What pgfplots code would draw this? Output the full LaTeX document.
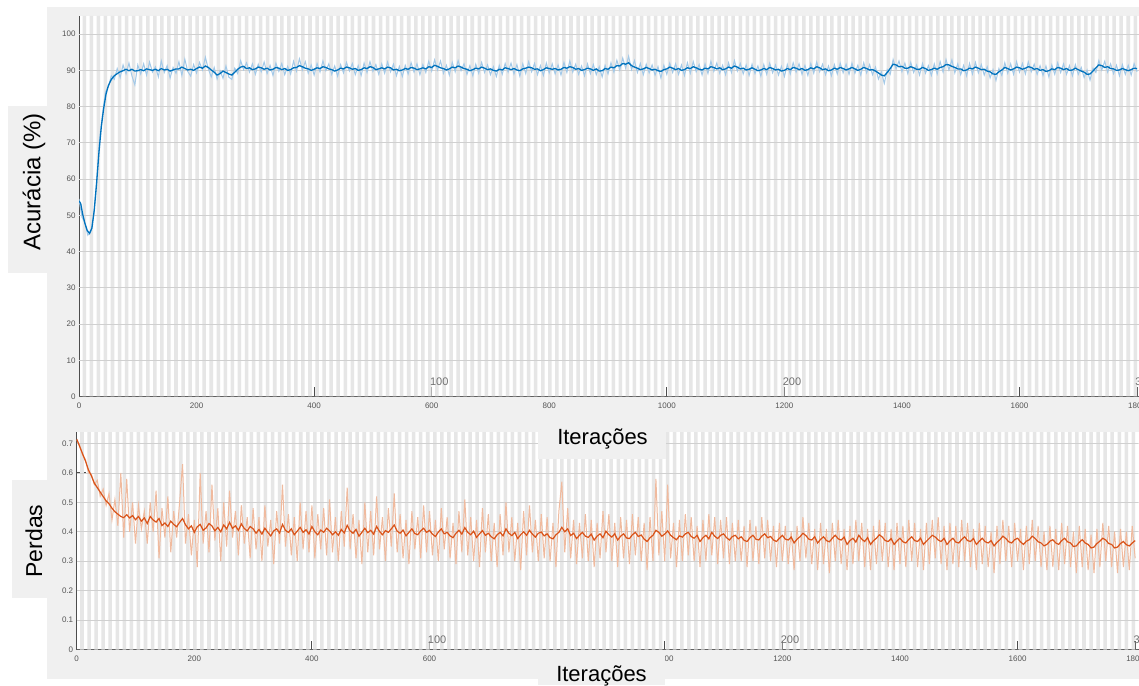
\documentclass[border=0pt]{standalone}
\usepackage{fontspec}
\setmainfont{Liberation Sans}
\usepackage{pgfplots}
\usepackage{pgfplotstable}
\pgfplotsset{compat=1.18}
\definecolor{panel}{HTML}{F0F0F0}
\definecolor{stripe}{HTML}{E6E6E6}
\definecolor{gridc}{HTML}{D0D0D0}
\definecolor{axc}{HTML}{4D4D4D}
\definecolor{tickc}{HTML}{555555}
\definecolor{epochc}{HTML}{707070}
\definecolor{mblue}{HTML}{0072BD}
\definecolor{lblue}{HTML}{A3C9E8}
\definecolor{morange}{HTML}{D95319}
\definecolor{lorange}{HTML}{F0BA9E}
% epoch shading (x, top for accuracy axis, top for loss axis)
\pgfplotstableread[row sep=\\]{
x a b\\
0 0 0\\6 105 0.75\\12 0 0\\18 105 0.75\\24 0 0\\30 105 0.75\\36 0 0\\42 105 0.75\\48 0 0\\54 105 0.75\\60 0 0\\66 105 0.75\\72 0 0\\78 105 0.75\\84 0 0\\90 105 0.75\\96 0 0\\102 105 0.75\\108 0 0\\114 105 0.75\\
120 0 0\\126 105 0.75\\132 0 0\\138 105 0.75\\144 0 0\\150 105 0.75\\156 0 0\\162 105 0.75\\168 0 0\\174 105 0.75\\180 0 0\\186 105 0.75\\192 0 0\\198 105 0.75\\204 0 0\\210 105 0.75\\216 0 0\\222 105 0.75\\228 0 0\\234 105 0.75\\
240 0 0\\246 105 0.75\\252 0 0\\258 105 0.75\\264 0 0\\270 105 0.75\\276 0 0\\282 105 0.75\\288 0 0\\294 105 0.75\\300 0 0\\306 105 0.75\\312 0 0\\318 105 0.75\\324 0 0\\330 105 0.75\\336 0 0\\342 105 0.75\\348 0 0\\354 105 0.75\\
360 0 0\\366 105 0.75\\372 0 0\\378 105 0.75\\384 0 0\\390 105 0.75\\396 0 0\\402 105 0.75\\408 0 0\\414 105 0.75\\420 0 0\\426 105 0.75\\432 0 0\\438 105 0.75\\444 0 0\\450 105 0.75\\456 0 0\\462 105 0.75\\468 0 0\\474 105 0.75\\
480 0 0\\486 105 0.75\\492 0 0\\498 105 0.75\\504 0 0\\510 105 0.75\\516 0 0\\522 105 0.75\\528 0 0\\534 105 0.75\\540 0 0\\546 105 0.75\\552 0 0\\558 105 0.75\\564 0 0\\570 105 0.75\\576 0 0\\582 105 0.75\\588 0 0\\594 105 0.75\\
600 0 0\\606 105 0.75\\612 0 0\\618 105 0.75\\624 0 0\\630 105 0.75\\636 0 0\\642 105 0.75\\648 0 0\\654 105 0.75\\660 0 0\\666 105 0.75\\672 0 0\\678 105 0.75\\684 0 0\\690 105 0.75\\696 0 0\\702 105 0.75\\708 0 0\\714 105 0.75\\
720 0 0\\726 105 0.75\\732 0 0\\738 105 0.75\\744 0 0\\750 105 0.75\\756 0 0\\762 105 0.75\\768 0 0\\774 105 0.75\\780 0 0\\786 105 0.75\\792 0 0\\798 105 0.75\\804 0 0\\810 105 0.75\\816 0 0\\822 105 0.75\\828 0 0\\834 105 0.75\\
840 0 0\\846 105 0.75\\852 0 0\\858 105 0.75\\864 0 0\\870 105 0.75\\876 0 0\\882 105 0.75\\888 0 0\\894 105 0.75\\900 0 0\\906 105 0.75\\912 0 0\\918 105 0.75\\924 0 0\\930 105 0.75\\936 0 0\\942 105 0.75\\948 0 0\\954 105 0.75\\
960 0 0\\966 105 0.75\\972 0 0\\978 105 0.75\\984 0 0\\990 105 0.75\\996 0 0\\1002 105 0.75\\1008 0 0\\1014 105 0.75\\1020 0 0\\1026 105 0.75\\1032 0 0\\1038 105 0.75\\1044 0 0\\1050 105 0.75\\1056 0 0\\1062 105 0.75\\1068 0 0\\1074 105 0.75\\
1080 0 0\\1086 105 0.75\\1092 0 0\\1098 105 0.75\\1104 0 0\\1110 105 0.75\\1116 0 0\\1122 105 0.75\\1128 0 0\\1134 105 0.75\\1140 0 0\\1146 105 0.75\\1152 0 0\\1158 105 0.75\\1164 0 0\\1170 105 0.75\\1176 0 0\\1182 105 0.75\\1188 0 0\\1194 105 0.75\\
1200 0 0\\1206 105 0.75\\1212 0 0\\1218 105 0.75\\1224 0 0\\1230 105 0.75\\1236 0 0\\1242 105 0.75\\1248 0 0\\1254 105 0.75\\1260 0 0\\1266 105 0.75\\1272 0 0\\1278 105 0.75\\1284 0 0\\1290 105 0.75\\1296 0 0\\1302 105 0.75\\1308 0 0\\1314 105 0.75\\
1320 0 0\\1326 105 0.75\\1332 0 0\\1338 105 0.75\\1344 0 0\\1350 105 0.75\\1356 0 0\\1362 105 0.75\\1368 0 0\\1374 105 0.75\\1380 0 0\\1386 105 0.75\\1392 0 0\\1398 105 0.75\\1404 0 0\\1410 105 0.75\\1416 0 0\\1422 105 0.75\\1428 0 0\\1434 105 0.75\\
1440 0 0\\1446 105 0.75\\1452 0 0\\1458 105 0.75\\1464 0 0\\1470 105 0.75\\1476 0 0\\1482 105 0.75\\1488 0 0\\1494 105 0.75\\1500 0 0\\1506 105 0.75\\1512 0 0\\1518 105 0.75\\1524 0 0\\1530 105 0.75\\1536 0 0\\1542 105 0.75\\1548 0 0\\1554 105 0.75\\
1560 0 0\\1566 105 0.75\\1572 0 0\\1578 105 0.75\\1584 0 0\\1590 105 0.75\\1596 0 0\\1602 105 0.75\\1608 0 0\\1614 105 0.75\\1620 0 0\\1626 105 0.75\\1632 0 0\\1638 105 0.75\\1644 0 0\\1650 105 0.75\\1656 0 0\\1662 105 0.75\\1668 0 0\\1674 105 0.75\\
1680 0 0\\1686 105 0.75\\1692 0 0\\1698 105 0.75\\1704 0 0\\1710 105 0.75\\1716 0 0\\1722 105 0.75\\1728 0 0\\1734 105 0.75\\1740 0 0\\1746 105 0.75\\1752 0 0\\1758 105 0.75\\1764 0 0\\1770 105 0.75\\1776 0 0\\1782 105 0.75\\1788 0 0\\1794 105 0.75\\
1800 0 0\\1806 0 0\\
}\stripes
\pgfplotsset{
 mystyle/.style={
  scale only axis, axis lines=left,
  axis background/.style={fill=white},
  axis line style={axc, line width=0.9pt, -},
  tick align=inside, major tick length=9pt, tick style={axc, line width=0.9pt},
  xmin=0, ymin=0, xtick={0,200,...,1800},
  tick label style={font=\fontsize{8}{9}\selectfont, text=tickc},
  /pgf/number format/assume math mode=true,
  /pgf/number format/1000 sep={},
  xticklabel style={yshift=-3pt},
 }
}
\begin{document}
\begin{tikzpicture}
\begin{scope}
\clip (0pt,0pt) rectangle (1139pt,685pt);
\fill[panel] (47pt,6pt) rectangle (1139pt,678pt);
% ---------------- accuracy ----------------
\begin{axis}[mystyle, at={(79pt,288.5pt)}, anchor=south west,
  width=1059.8pt, height=380.5pt, xmax=1803, ymax=105, ytick={0,10,...,100}]
\addplot[const plot, fill=stripe, draw=none] table[x=x, y=a] {\stripes} \closedcycle;
\pgfplotsinvokeforeach{10,20,30,40,50,60,70,80,90,100}{
  \draw[gridc, line width=0.7pt] (axis cs:0,#1) -- (axis cs:1803,#1);
}
\addplot[lblue, line width=1pt] coordinates {
(0,54.5)(5,49.5)(10,48)(15,44.5)(20,45.5)(25,50)(30,59)(35,71)(40,78)(45,84)(50,85.5)(55,88.5)(60,87.5)(65,90.5)(70,88)(75,91.5)(80,89)(85,92)(90,88.5)(95,86)
(100,91.5)(105,89)(110,91.8)(115,88.7)(120,92.3)(125,89.5)(130,91)(135,88.2)(140,92.6)(145,89.4)(150,91.3)(155,87.9)(160,90.8)(165,89.2)(170,92.4)(175,88.6)(180,93.1)(185,89.7)(190,88.4)(195,91.6)
(200,89.3)(205,92.2)(210,90.1)(215,93.6)(220,90.4)(225,88.2)(230,90.8)(235,87.6)(240,89.9)(245,87.8)(250,91.2)(255,88.1)(260,87.5)(265,90.6)(270,89.1)(275,92.7)(280,90.2)(285,92.1)(290,89.5)(295,91.8)
(300,88.9)(305,91.7)(310,89.6)(315,92.3)(320,89.1)(325,91.4)(330,88.6)(335,92.0)(340,89.7)(345,91.9)(350,88.8)(355,91.1)(360,89.0)(365,92.5)(370,89.8)(375,93.2)(380,90.1)(385,92.4)(390,89.2)(395,91.5)
(400,88.7)(405,91.9)(410,89.5)(415,92.6)(420,89.9)(425,91.8)(430,88.9)(435,91.2)(440,88.4)(445,91.6)(450,89.3)(455,92.2)(460,89.8)(465,91.9)(470,88.8)(475,91.3)(480,88.6)(485,92.0)(490,89.4)(495,92.4)
(500,89.7)(505,91.6)(510,88.9)(515,91.8)(520,89.2)(525,92.3)(530,89.6)(535,91.7)(540,88.5)(545,91.1)(550,88.3)(555,91.4)(560,89.0)(565,92.1)(570,89.5)(575,91.8)(580,88.8)(585,91.6)(590,89.4)(595,92.5)
(600,89.8)(605,92.9)(610,90.1)(615,92.6)(620,89.2)(625,91.4)(630,88.7)(635,92.2)(640,89.6)(645,92.7)(650,89.9)(655,91.8)(660,88.9)(665,91.3)(670,88.5)(675,91.7)(680,89.2)(685,92.2)(690,89.4)(695,91.5)
(700,88.8)(705,91.0)(710,88.3)(715,91.4)(720,88.9)(725,91.9)(730,89.5)(735,92.0)(740,89.0)(745,91.6)(750,88.4)(755,91.8)(760,89.1)(765,92.4)(770,89.6)(775,91.9)(780,88.8)(785,91.3)(790,88.6)(795,92.0)
(800,89.3)(805,91.8)(810,89.0)(815,91.5)(820,88.7)(825,92.2)(830,89.4)(835,92.6)(840,89.5)(845,91.7)(850,88.9)(855,91.2)(860,88.5)(865,91.8)(870,89.1)(875,91.6)(880,88.8)(885,91.0)(890,88.2)(895,91.4)
(900,89.0)(905,92.1)(910,89.5)(915,92.8)(920,90.1)(925,93.4)(930,90.6)(935,93.9)(940,90.2)(945,92.7)(950,89.4)(955,91.9)(960,88.8)(965,91.7)(970,89.3)(975,91.5)(980,88.7)(985,91.0)(990,87.9)(995,91.4)
(1000,88.9)(1005,92.0)(1010,89.4)(1015,91.8)(1020,88.9)(1025,91.5)(1030,88.6)(1035,92.1)(1040,89.2)(1045,92.4)(1050,89.6)(1055,91.6)(1060,88.7)(1065,91.8)(1070,89.1)(1075,92.5)(1080,89.7)(1085,92.0)(1090,89.2)(1095,91.4)
(1100,88.8)(1105,92.1)(1110,89.4)(1115,92.7)(1120,89.8)(1125,91.9)(1130,89.0)(1135,91.5)(1140,88.6)(1145,91.7)(1150,89.1)(1155,91.2)(1160,88.4)(1165,91.6)(1170,88.9)(1175,92.0)(1180,89.3)(1185,91.5)(1190,88.7)(1195,91.1)
(1200,88.3)(1205,91.6)(1210,89.0)(1215,92.1)(1220,89.5)(1225,91.8)(1230,88.9)(1235,91.4)(1240,88.6)(1245,91.9)(1250,89.2)(1255,92.3)(1260,89.6)(1265,91.7)(1270,88.8)(1275,91.2)(1280,88.5)(1285,91.6)(1290,89.0)(1295,92.0)
(1300,89.3)(1305,91.7)(1310,88.9)(1315,92.0)(1320,89.2)(1325,91.4)(1330,88.7)(1335,92.1)(1340,89.3)(1345,91.6)(1350,88.8)(1355,90.9)(1360,87.6)(1365,89.5)(1370,86.4)(1375,90.2)(1380,88.9)(1385,93.0)(1390,90.4)(1395,92.6)
(1400,89.6)(1405,92.0)(1410,89.1)(1415,92.2)(1420,89.4)(1425,91.5)(1430,88.7)(1435,91.9)(1440,89.2)(1445,91.3)(1450,88.6)(1455,91.8)(1460,89.0)(1465,92.4)(1470,89.5)(1475,93.0)(1480,90.1)(1485,92.9)(1490,89.3)(1495,91.8)
(1500,88.8)(1505,91.4)(1510,88.5)(1515,91.9)(1520,89.0)(1525,92.2)(1530,89.3)(1535,91.6)(1540,88.7)(1545,91.0)(1550,87.9)(1555,90.2)(1560,87.2)(1565,90.5)(1570,88.6)(1575,92.1)(1580,89.2)(1585,91.8)(1590,88.9)(1595,92.4)
(1600,89.5)(1605,91.9)(1610,89.0)(1615,92.3)(1620,89.6)(1625,91.7)(1630,88.9)(1635,91.3)(1640,88.6)(1645,91.2)(1650,88.2)(1655,91.5)(1660,88.9)(1665,92.1)(1670,89.4)(1675,91.8)(1680,88.9)(1685,91.3)(1690,88.5)(1695,91.6)
(1700,88.9)(1705,90.8)(1710,88.0)(1715,90.1)(1720,87.3)(1725,90.6)(1730,89.4)(1735,92.7)(1740,90.1)(1745,92.5)(1750,89.5)(1755,91.8)(1760,89.1)(1765,91.4)(1770,88.5)(1775,91.6)(1780,88.9)(1785,91.4)(1790,88.7)(1795,91.9)(1800,89.6)
};
\addplot[mblue, line width=1.3pt] coordinates {
(0,54)(3,53.2)(6,50.5)(10,47.8)(14,45.8)(18,45)(22,46.5)(26,51.5)(30,59)(34,67.5)(38,74.5)(42,79.5)(46,83.5)(50,85.8)(55,87.5)(60,88.5)(65,89.1)(70,89.6)(75,89.9)
(80,90.3)(85,89.9)(90,90.3)(95,89.8)(100,89.9)(105,90.2)(110,89.9)(115,90.4)(120,90.2)(125,90.0)(130,90.3)(135,89.9)(140,90.5)(145,90.1)(150,90.3)(155,89.8)(160,90.1)(165,90.4)(170,90.4)(175,90.9)
(180,90.5)(185,90.1)(190,90.3)(195,90.0)(200,90.5)(205,90.9)(210,90.6)(215,91.2)(220,90.8)(225,90.1)(230,89.5)(235,88.7)(240,89.1)(245,89.8)(250,89.4)(255,89.0)(260,88.7)(265,89.5)(270,90.3)(275,90.9)
(280,91.1)(285,90.5)(290,90.7)(295,90.2)(300,90.4)(305,90.9)(310,90.7)(315,90.3)(320,90.6)(325,90.1)(330,90.3)(335,90.8)(340,90.6)(345,90.2)(350,90.5)(355,90.0)(360,90.2)(365,90.7)(370,90.8)(375,91.3)
(380,91.0)(385,90.6)(390,90.4)(395,90.0)(400,90.3)(405,90.7)(410,90.5)(415,91.0)(420,90.8)(425,90.4)(430,90.2)(435,89.8)(440,90.1)(445,90.6)(450,90.4)(455,90.9)(460,90.7)(465,90.3)(470,90.5)(475,90.0)
(480,90.2)(485,90.7)(490,90.5)(495,91.0)(500,90.8)(505,90.2)(510,90.4)(515,90.7)(520,90.4)(525,90.9)(530,90.7)(535,90.1)(540,90.3)(545,89.9)(550,90.1)(555,90.5)(560,90.3)(565,90.8)(570,90.6)(575,90.2)
(580,90.4)(585,90.7)(590,90.4)(595,91.0)(600,90.8)(605,91.4)(610,91.1)(615,90.7)(620,90.5)(625,90.1)(630,90.4)(635,90.9)(640,90.7)(645,91.2)(650,90.9)(655,90.5)(660,90.3)(665,89.9)(670,90.2)(675,90.6)
(680,90.4)(685,90.9)(690,90.6)(695,90.2)(700,90.4)(705,90.0)(710,89.8)(715,90.3)(720,90.1)(725,90.7)(730,90.5)(735,90.2)(740,90.5)(745,90.1)(750,89.9)(755,90.4)(760,90.6)(765,90.9)(770,90.7)(775,90.3)
(780,90.4)(785,89.9)(790,90.2)(795,90.7)(800,90.5)(805,90.3)(810,90.5)(815,90.1)(820,90.3)(825,90.8)(830,90.6)(835,91.0)(840,90.8)(845,90.3)(850,90.5)(855,90.0)(860,90.2)(865,90.6)(870,90.4)(875,90.0)
(880,90.4)(885,89.8)(890,89.9)(895,90.5)(900,90.3)(905,90.9)(910,90.7)(915,91.3)(920,91.2)(925,91.9)(930,91.7)(935,92.1)(940,91.3)(945,90.9)(950,90.6)(955,90.2)(960,90.4)(965,90.8)(970,90.5)(975,90.1)
(980,90.3)(985,89.9)(990,89.7)(995,90.2)(1000,90.4)(1005,90.9)(1010,90.6)(1015,90.2)(1020,90.5)(1025,90.0)(1030,90.2)(1035,90.7)(1040,90.5)(1045,91.0)(1050,90.7)(1055,90.3)(1060,90.1)(1065,90.6)(1070,90.4)(1075,91.0)
(1080,90.8)(1085,90.4)(1090,90.7)(1095,90.2)(1100,90.4)(1105,90.9)(1110,90.6)(1115,91.2)(1120,90.9)(1125,90.4)(1130,90.6)(1135,90.1)(1140,90.3)(1145,90.7)(1150,90.3)(1155,89.9)(1160,90.1)(1165,90.5)(1170,90.2)(1175,90.8)
(1180,90.5)(1185,90.1)(1190,90.3)(1195,89.8)(1200,90.0)(1205,90.5)(1210,90.2)(1215,90.8)(1220,90.6)(1225,90.2)(1230,90.5)(1235,90.0)(1240,90.2)(1245,90.7)(1250,90.4)(1255,91.0)(1260,90.7)(1265,90.2)(1270,90.4)(1275,89.9)
(1280,90.1)(1285,90.6)(1290,90.3)(1295,90.8)(1300,90.5)(1305,90.1)(1310,90.4)(1315,90.8)(1320,90.4)(1325,90.0)(1330,90.3)(1335,90.8)(1340,90.5)(1345,90.1)(1350,90.2)(1355,89.8)(1360,89.3)(1365,88.7)(1370,88.5)(1375,89.4)
(1380,90.5)(1385,91.7)(1390,91.5)(1395,91.0)(1400,91.1)(1405,90.6)(1410,90.6)(1415,91.0)(1420,90.7)(1425,90.3)(1430,90.3)(1435,90.8)(1440,90.5)(1445,90.0)(1450,90.2)(1455,90.6)(1460,90.3)(1465,90.8)(1470,91.0)(1475,91.6)
(1480,91.5)(1485,91.1)(1490,90.8)(1495,90.4)(1500,90.4)(1505,89.9)(1510,90.1)(1515,90.6)(1520,90.4)(1525,90.9)(1530,90.6)(1535,90.2)(1540,90.3)(1545,89.8)(1550,89.6)(1555,89.0)(1560,88.9)(1565,89.6)(1570,90.1)(1575,90.8)
(1580,90.5)(1585,90.1)(1590,90.4)(1595,90.9)(1600,90.7)(1605,90.3)(1610,90.6)(1615,91.0)(1620,90.8)(1625,90.3)(1630,90.5)(1635,90.0)(1640,90.2)(1645,89.7)(1650,89.9)(1655,90.4)(1660,90.2)(1665,90.8)(1670,90.6)(1675,90.2)
(1680,90.5)(1685,90.0)(1690,90.1)(1695,90.6)(1700,90.2)(1705,89.8)(1710,89.5)(1715,88.9)(1720,89.0)(1725,89.8)(1730,90.7)(1735,91.5)(1740,91.3)(1745,90.8)(1750,91.0)(1755,90.5)(1760,90.4)(1765,90.0)(1770,90.1)(1775,90.5)
(1780,90.2)(1785,89.9)(1790,90.2)(1795,90.6)(1800,90.5)
};
\node[anchor=west, inner sep=0pt, text=epochc, font=\fontsize{11}{12}\selectfont] at (axis cs:597,4) {100};
\node[anchor=west, inner sep=0pt, text=epochc, font=\fontsize{11}{12}\selectfont] at (axis cs:1197,4) {200};
\node[anchor=west, inner sep=0pt, text=epochc, font=\fontsize{11}{12}\selectfont] at (axis cs:1797,4) {300};
\end{axis}
% ---------------- loss ----------------
\begin{axis}[mystyle, at={(76.7pt,35.5pt)}, anchor=south west,
  width=1062pt, height=217.5pt, xmax=1806, ymax=0.739,
  ytick={0,0.1,0.2,0.3,0.4,0.5,0.6,0.7},
  yticklabel style={/pgf/number format/.cd, fixed, precision=1}]
\addplot[const plot, fill=stripe, draw=none] table[x=x, y=b] {\stripes} \closedcycle;
\pgfplotsinvokeforeach{0.1,0.2,0.3,0.4,0.5,0.6,0.7}{
  \draw[gridc, line width=0.7pt] (axis cs:0,#1) -- (axis cs:1806,#1);
}
\addplot[lorange, line width=1pt] coordinates {
(0,0.712)(5,0.695)(10,0.66)(15,0.645)(20,0.6)(25,0.595)(30,0.56)(35,0.575)(40,0.52)(45,0.545)(50,0.49)(55,0.53)(60,0.44)(65,0.51)(70,0.42)(75,0.6)(80,0.38)(85,0.58)(90,0.4)(95,0.5)
(100,0.36)(105,0.49)(110,0.41)(115,0.47)(120,0.36)(125,0.5)(130,0.4)(135,0.54)(140,0.31)(145,0.48)(150,0.38)(155,0.52)(160,0.33)(165,0.47)(170,0.38)(175,0.5)(180,0.63)(185,0.36)(190,0.46)(195,0.32)
(200,0.44)(205,0.28)(210,0.6)(215,0.36)(220,0.47)(225,0.33)(230,0.56)(235,0.37)(240,0.48)(245,0.3)(250,0.5)(255,0.35)(260,0.54)(265,0.38)(270,0.47)(275,0.32)(280,0.49)(285,0.36)(290,0.45)(295,0.31)
(300,0.48)(305,0.34)(310,0.45)(315,0.3)(320,0.49)(325,0.35)(330,0.44)(335,0.29)(340,0.47)(345,0.36)(350,0.56)(355,0.35)(360,0.46)(365,0.32)(370,0.45)(375,0.3)(380,0.5)(385,0.34)(390,0.47)(395,0.33)
(400,0.49)(405,0.31)(410,0.46)(415,0.34)(420,0.48)(425,0.32)(430,0.51)(435,0.33)(440,0.45)(445,0.3)(450,0.47)(455,0.35)(460,0.55)(465,0.34)(470,0.46)(475,0.31)(480,0.44)(485,0.29)(490,0.5)(495,0.33)
(500,0.47)(505,0.32)(510,0.52)(515,0.34)(520,0.45)(525,0.3)(530,0.48)(535,0.35)(540,0.53)(545,0.33)(550,0.46)(555,0.31)(560,0.44)(565,0.29)(570,0.47)(575,0.34)(580,0.45)(585,0.31)(590,0.49)(595,0.33)
(600,0.47)(605,0.32)(610,0.44)(615,0.3)(620,0.48)(625,0.34)(630,0.45)(635,0.31)(640,0.43)(645,0.29)(650,0.47)(655,0.33)(660,0.51)(665,0.32)(670,0.45)(675,0.3)(680,0.44)(685,0.28)(690,0.48)(695,0.33)
(700,0.46)(705,0.3)(710,0.43)(715,0.28)(720,0.46)(725,0.32)(730,0.5)(735,0.33)(740,0.45)(745,0.3)(750,0.43)(755,0.27)(760,0.47)(765,0.32)(770,0.49)(775,0.33)(780,0.44)(785,0.3)(790,0.46)(795,0.31)
(800,0.45)(805,0.3)(810,0.43)(815,0.28)(820,0.47)(825,0.57)(830,0.33)(835,0.48)(840,0.31)(845,0.44)(850,0.29)(855,0.43)(860,0.31)(865,0.46)(870,0.3)(875,0.44)(880,0.28)(885,0.43)(890,0.31)(895,0.47)
(900,0.33)(905,0.46)(910,0.3)(915,0.43)(920,0.28)(925,0.45)(930,0.31)(935,0.44)(940,0.29)(945,0.46)(950,0.32)(955,0.45)(960,0.3)(965,0.43)(970,0.27)(975,0.45)(980,0.3)(985,0.58)(990,0.32)(995,0.47)
(1000,0.3)(1005,0.56)(1010,0.31)(1015,0.43)(1020,0.28)(1025,0.44)(1030,0.3)(1035,0.46)(1040,0.32)(1045,0.45)(1050,0.3)(1055,0.42)(1060,0.28)(1065,0.44)(1070,0.3)(1075,0.46)(1080,0.32)(1085,0.45)(1090,0.29)(1095,0.44)
(1100,0.31)(1105,0.45)(1110,0.29)(1115,0.43)(1120,0.3)(1125,0.44)(1130,0.3)(1135,0.42)(1140,0.28)(1145,0.44)(1150,0.3)(1155,0.42)(1160,0.29)(1165,0.45)(1170,0.31)(1175,0.44)(1180,0.3)(1185,0.42)(1190,0.28)(1195,0.43)
(1200,0.3)(1205,0.42)(1210,0.29)(1215,0.4)(1220,0.27)(1225,0.42)(1230,0.3)(1235,0.45)(1240,0.31)(1245,0.43)(1250,0.29)(1255,0.41)(1260,0.27)(1265,0.43)(1270,0.29)(1275,0.41)(1280,0.26)(1285,0.43)(1290,0.3)(1295,0.44)
(1300,0.29)(1305,0.41)(1310,0.27)(1315,0.42)(1320,0.29)(1325,0.44)(1330,0.3)(1335,0.43)(1340,0.28)(1345,0.41)(1350,0.27)(1355,0.42)(1360,0.29)(1365,0.44)(1370,0.3)(1375,0.43)(1380,0.28)(1385,0.41)(1390,0.27)(1395,0.43)
(1400,0.29)(1405,0.42)(1410,0.28)(1415,0.44)(1420,0.3)(1425,0.43)(1430,0.28)(1435,0.41)(1440,0.27)(1445,0.43)(1450,0.29)(1455,0.44)(1460,0.31)(1465,0.45)(1470,0.29)(1475,0.42)(1480,0.27)(1485,0.43)(1490,0.29)(1495,0.42)
(1500,0.28)(1505,0.44)(1510,0.3)(1515,0.43)(1520,0.28)(1525,0.41)(1530,0.27)(1535,0.43)(1540,0.29)(1545,0.42)(1550,0.28)(1555,0.4)(1560,0.26)(1565,0.42)(1570,0.29)(1575,0.44)(1580,0.3)(1585,0.42)(1590,0.28)(1595,0.43)
(1600,0.3)(1605,0.41)(1610,0.27)(1615,0.42)(1620,0.29)(1625,0.44)(1630,0.3)(1635,0.42)(1640,0.28)(1645,0.4)(1650,0.27)(1655,0.42)(1660,0.28)(1665,0.41)(1670,0.27)(1675,0.43)(1680,0.29)(1685,0.42)(1690,0.28)(1695,0.4)
(1700,0.26)(1705,0.42)(1710,0.28)(1715,0.41)(1720,0.27)(1725,0.39)(1730,0.26)(1735,0.41)(1740,0.28)(1745,0.43)(1750,0.3)(1755,0.42)(1760,0.28)(1765,0.4)(1770,0.26)(1775,0.41)(1780,0.28)(1785,0.4)(1790,0.27)(1795,0.42)(1800,0.31)
};
\addplot[morange, line width=1.2pt] coordinates {
(0,0.715)(5,0.69)(10,0.665)(15,0.64)(20,0.61)(25,0.59)(30,0.565)(35,0.55)(40,0.535)(45,0.52)(50,0.505)(55,0.495)(60,0.48)(65,0.468)(70,0.46)(75,0.452)
(80,0.448)(85,0.458)(90,0.447)(95,0.455)(100,0.441)(105,0.452)(110,0.436)(115,0.447)(120,0.428)(125,0.452)(130,0.44)(135,0.433)(140,0.445)(145,0.421)(150,0.43)(155,0.418)(160,0.436)(165,0.425)(170,0.417)(175,0.432)
(180,0.445)(185,0.424)(190,0.41)(195,0.42)(200,0.398)(205,0.417)(210,0.425)(215,0.405)(220,0.413)(225,0.428)(230,0.42)(235,0.403)(240,0.415)(245,0.4)(250,0.423)(255,0.41)(260,0.432)(265,0.412)(270,0.42)(275,0.405)
(280,0.427)(285,0.411)(290,0.403)(295,0.418)(300,0.41)(305,0.395)(310,0.408)(315,0.392)(320,0.412)(325,0.398)(330,0.386)(335,0.403)(340,0.41)(345,0.396)(350,0.425)(355,0.405)(360,0.398)(365,0.41)(370,0.39)(375,0.402)
(380,0.415)(385,0.398)(390,0.407)(395,0.392)(400,0.418)(405,0.4)(410,0.39)(415,0.406)(420,0.398)(425,0.412)(430,0.403)(435,0.39)(440,0.4)(445,0.388)(450,0.408)(455,0.396)(460,0.422)(465,0.403)(470,0.395)(475,0.408)
(480,0.385)(485,0.398)(490,0.412)(495,0.397)(500,0.405)(505,0.392)(510,0.418)(515,0.401)(520,0.39)(525,0.404)(530,0.398)(535,0.41)(540,0.423)(545,0.402)(550,0.395)(555,0.406)(560,0.386)(565,0.398)(570,0.41)(575,0.394)
(580,0.39)(585,0.403)(590,0.412)(595,0.398)(600,0.405)(605,0.392)(610,0.384)(615,0.399)(620,0.41)(625,0.393)(630,0.398)(635,0.386)(640,0.38)(645,0.395)(650,0.405)(655,0.392)(660,0.414)(665,0.398)(670,0.39)(675,0.402)
(680,0.381)(685,0.393)(690,0.404)(695,0.388)(700,0.395)(705,0.383)(710,0.376)(715,0.39)(720,0.398)(725,0.386)(730,0.41)(735,0.395)(740,0.387)(745,0.398)(750,0.377)(755,0.39)(760,0.4)(765,0.388)(770,0.405)(775,0.392)
(780,0.382)(785,0.395)(790,0.399)(795,0.386)(800,0.393)(805,0.38)(810,0.376)(815,0.39)(820,0.398)(825,0.415)(830,0.4)(835,0.41)(840,0.387)(845,0.395)(850,0.377)(855,0.388)(860,0.398)(865,0.385)(870,0.381)(875,0.392)
(880,0.372)(885,0.385)(890,0.393)(895,0.38)(900,0.402)(905,0.39)(910,0.382)(915,0.393)(920,0.372)(925,0.385)(930,0.393)(935,0.379)(940,0.377)(945,0.39)(950,0.398)(955,0.384)(960,0.389)(965,0.375)(970,0.367)(975,0.38)
(980,0.388)(985,0.405)(990,0.398)(995,0.385)(1000,0.392)(1005,0.403)(1010,0.388)(1015,0.38)(1020,0.373)(1025,0.386)(1030,0.382)(1035,0.393)(1040,0.398)(1045,0.384)(1050,0.378)(1055,0.388)(1060,0.367)(1065,0.38)(1070,0.388)(1075,0.376)
(1080,0.398)(1085,0.385)(1090,0.377)(1095,0.388)(1100,0.393)(1105,0.38)(1110,0.372)(1115,0.384)(1120,0.388)(1125,0.376)(1130,0.383)(1135,0.371)(1140,0.367)(1145,0.38)(1150,0.388)(1155,0.375)(1160,0.372)(1165,0.385)(1170,0.393)(1175,0.38)
(1180,0.384)(1185,0.372)(1190,0.367)(1195,0.378)(1200,0.388)(1205,0.375)(1210,0.372)(1215,0.382)(1220,0.362)(1225,0.375)(1230,0.383)(1235,0.395)(1240,0.387)(1245,0.375)(1250,0.372)(1255,0.383)(1260,0.362)(1265,0.374)(1270,0.383)(1275,0.37)
(1280,0.366)(1285,0.378)(1290,0.388)(1295,0.376)(1300,0.372)(1305,0.382)(1310,0.357)(1315,0.37)(1320,0.378)(1325,0.365)(1330,0.388)(1335,0.375)(1340,0.367)(1345,0.38)(1350,0.357)(1355,0.37)(1360,0.378)(1365,0.39)(1370,0.382)(1375,0.37)
(1380,0.367)(1385,0.377)(1390,0.357)(1395,0.369)(1400,0.378)(1405,0.366)(1410,0.362)(1415,0.374)(1420,0.383)(1425,0.37)(1430,0.367)(1435,0.378)(1440,0.357)(1445,0.368)(1450,0.378)(1455,0.388)(1460,0.382)(1465,0.372)(1470,0.367)(1475,0.378)
(1480,0.357)(1485,0.369)(1490,0.378)(1495,0.365)(1500,0.362)(1505,0.374)(1510,0.383)(1515,0.37)(1520,0.367)(1525,0.377)(1530,0.357)(1535,0.368)(1540,0.378)(1545,0.366)(1550,0.362)(1555,0.37)(1560,0.352)(1565,0.364)(1570,0.373)(1575,0.385)
(1580,0.377)(1585,0.366)(1590,0.362)(1595,0.373)(1600,0.378)(1605,0.366)(1610,0.357)(1615,0.368)(1620,0.373)(1625,0.385)(1630,0.377)(1635,0.366)(1640,0.362)(1645,0.352)(1650,0.357)(1655,0.368)(1660,0.373)(1665,0.362)(1670,0.357)(1675,0.37)
(1680,0.378)(1685,0.366)(1690,0.362)(1695,0.35)(1700,0.352)(1705,0.364)(1710,0.373)(1715,0.362)(1720,0.357)(1725,0.345)(1730,0.348)(1735,0.36)(1740,0.368)(1745,0.378)(1750,0.372)(1755,0.36)(1760,0.357)(1765,0.345)(1770,0.348)(1775,0.36)
(1780,0.367)(1785,0.356)(1790,0.352)(1795,0.362)(1800,0.37)
};
\node[anchor=west, inner sep=0pt, text=epochc, font=\fontsize{11}{12}\selectfont] at (axis cs:597,0.032) {100};
\node[anchor=west, inner sep=0pt, text=epochc, font=\fontsize{11}{12}\selectfont] at (axis cs:1197,0.032) {200};
\node[anchor=west, inner sep=0pt, text=epochc, font=\fontsize{11}{12}\selectfont] at (axis cs:1797,0.032) {300};
\end{axis}
% ---------------- label boxes ----------------
\fill[panel] (8pt,412pt) rectangle (60pt,579pt);
\node[rotate=90, inner sep=0pt, font=\fontsize{24}{28}\selectfont] at (34pt,503pt) {Acurácia (\%)};
\fill[panel] (12pt,87pt) rectangle (60pt,205pt);
\node[rotate=90, inner sep=0pt, font=\fontsize{23}{27}\selectfont] at (34pt,144pt) {Perdas};
\fill[panel] (538pt,226pt) rectangle (666pt,272pt);
\node[anchor=base, inner sep=0pt, font=\fontsize{22}{26}\selectfont] at (602.5pt,240pt) {Iterações};
\fill[panel] (538pt,0pt) rectangle (665pt,32pt);
\node[anchor=base, inner sep=0pt, font=\fontsize{22}{26}\selectfont] at (601.5pt,4pt) {Iterações};
\end{scope}
\pgfresetboundingbox
\useasboundingbox (0pt,0pt) rectangle (1139pt,685pt);
\end{tikzpicture}
\end{document}
